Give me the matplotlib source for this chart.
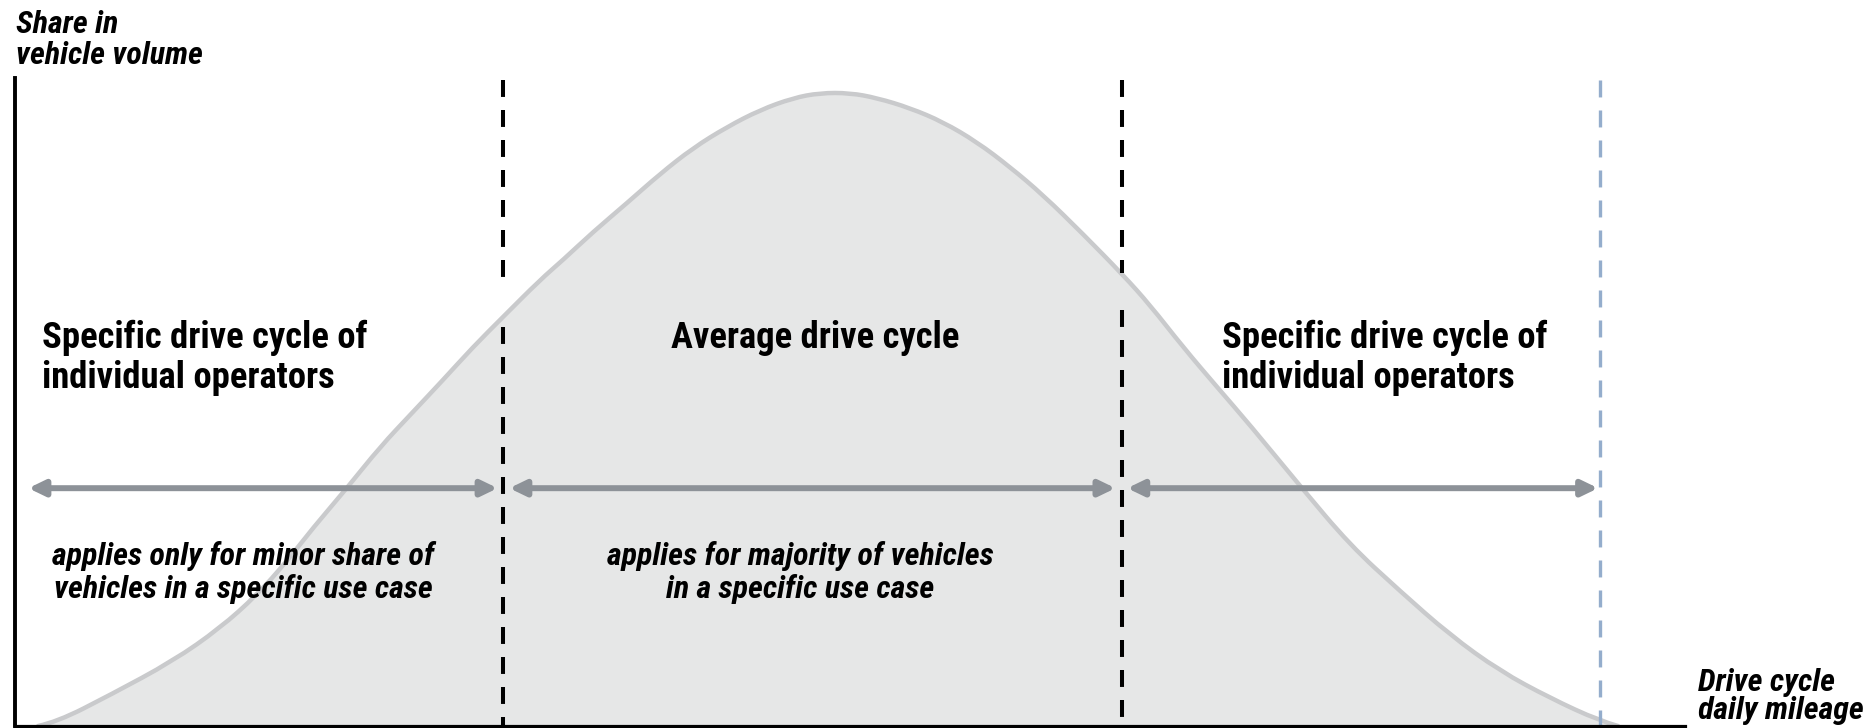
import matplotlib
matplotlib.use("Agg")
import matplotlib.pyplot as plt
from matplotlib import font_manager
from matplotlib.patches import FancyArrowPatch, ArrowStyle, PathPatch
from matplotlib.path import Path

# ---------------- data ----------------
mileage = [1.38, 2.51, 5.69, 9.46, 12.28, 14.49, 16.29, 17.84, 19.88, 21.86,
           23.77, 25.63, 27.43, 29.22, 31.44, 32.81, 34.61, 36.65, 38.62,
           40.60, 42.63, 44.61, 46.59, 48.20, 50.00, 51.62, 53.59, 55.57,
           57.60, 59.58, 61.56, 63.95, 66.35, 67.96, 69.94, 71.98, 73.95,
           76.95, 79.94, 82.93, 85.93, 88.92, 91.92, 94.91, 95.99]
share = [0.0, 0.62, 4.78, 10.03, 15.12, 20.22, 25.46, 30.56, 36.73, 43.06,
         48.30, 53.40, 58.49, 63.12, 68.83, 71.91, 76.23, 80.71, 85.19,
         89.20, 92.44, 95.06, 96.91, 97.69, 97.69, 96.91, 95.37, 93.21,
         90.12, 86.27, 81.94, 75.93, 69.60, 64.97, 58.49, 52.31, 46.45,
         37.04, 27.93, 20.83, 14.04, 8.49, 4.32, 0.77, 0.0]

segment_bounds = [29.2, 66.3]          # black dashed separators
outer_bound = 94.9                     # light-blue dashed limit
arrow_spans = [(0.8, 28.9), (29.6, 65.9), (66.6, 94.8)]

heading_left = ["Specific drive cycle of", "individual operators"]
heading_mid = ["Average drive cycle"]
heading_right = ["Specific drive cycle of", "individual operators"]
note_left = ["applies only for minor share of", "vehicles in a specific use case"]
note_mid = ["applies for majority of vehicles", "in a specific use case"]
ylabel_lines = ["Share in", "vehicle volume"]
xlabel_lines = ["Drive cycle", "daily mileage"]

# ---------------- style ----------------
names = {f.name for f in font_manager.fontManager.ttflist}
if "Roboto Condensed" in names:
    FAMILY, K = "Roboto Condensed", 1.0
elif "Liberation Sans Narrow" in names:
    FAMILY, K = "Liberation Sans Narrow", 1.0
else:
    FAMILY, K = "Liberation Sans", 0.87
plt.rcParams["font.family"] = [FAMILY, "DejaVu Sans"]
plt.rcParams["lines.scale_dashes"] = False

FILL = "#E6E7E7"
CURVE = "#C9CACC"
ARROW = "#8D9298"
BLUE = "#94ADCC"

W, H = 1872, 728
fig = plt.figure(figsize=(W / 100, H / 100), dpi=100)
L, R, T, B = 15, 1685, 78, 726
ax = fig.add_axes([L / W, (H - B) / H, (R - L) / W, (B - T) / H])
ax.set_xlim(0, 100)
ax.set_ylim(0, 100)
ax.set_xticks([])
ax.set_yticks([])
for s in ("top", "right"):
    ax.spines[s].set_visible(False)
ax.spines["left"].set_linewidth(2.8)
ax.spines["bottom"].set_linewidth(2.3)
ax.spines["left"].set_zorder(6)
ax.spines["bottom"].set_zorder(6)

# distribution curve: read points used as control points of a smooth
# quadratic B-spline path rendered by matplotlib
pts = list(zip(mileage, share))
verts = [pts[0]]
codes = [Path.MOVETO]
for i in range(1, len(pts) - 2):
    mid = ((pts[i][0] + pts[i + 1][0]) / 2, (pts[i][1] + pts[i + 1][1]) / 2)
    verts += [pts[i], mid]
    codes += [Path.CURVE3, Path.CURVE3]
verts += [pts[-2], pts[-1]]
codes += [Path.CURVE3, Path.CURVE3]

fill_path = Path(verts + [(pts[-1][0], 0), (pts[0][0], 0), (0, 0)],
                 codes + [Path.LINETO, Path.LINETO, Path.CLOSEPOLY])
ax.add_patch(PathPatch(fill_path, facecolor=FILL, edgecolor="none",
                       lw=0, zorder=1))
ax.add_patch(PathPatch(Path(verts, codes), facecolor="none",
                       edgecolor=CURVE, lw=3.2, capstyle="round",
                       joinstyle="round", zorder=2))

# dashed separators (each broken around the curve crossing)
dash = (0, (12.2, 9.4))
gaps = [(69.3, 61.6), (69.9, 64.2)]
for xb, (g_top, g_bot) in zip(segment_bounds, gaps):
    ax.plot([xb, xb], [99.7, g_top], color="black", lw=2.9, linestyle=dash,
            dash_capstyle="butt", zorder=3)
    ax.plot([xb, xb], [g_bot, 0], color="black", lw=2.9, linestyle=dash,
            dash_capstyle="butt", zorder=3)
ax.plot([outer_bound, outer_bound], [99.7, 0], color=BLUE, lw=2.4,
        linestyle=dash, dash_capstyle="butt", zorder=3)

# double arrows
arrow_y = 36.7
for x0, x1 in arrow_spans:
    ax.add_patch(FancyArrowPatch(
        (x0, arrow_y), (x1, arrow_y),
        arrowstyle=ArrowStyle("<|-|>", head_length=9.5, head_width=4.6),
        mutation_scale=1, lw=4.3, color=ARROW, shrinkA=0, shrinkB=0,
        zorder=4))


def lines(x, ys, texts, size, ha="left", style="normal"):
    for y, t in zip(ys, texts):
        ax.text(x, y, t, ha=ha, va="baseline", fontsize=size * K,
                fontweight="bold", fontstyle=style, color="black",
                zorder=7, clip_on=False)


HEAD = 26.4
NOTE = 23.0
LAB = 23.0
head_y = [58.4, 52.2]
note_y = [24.9, 19.7]

lines(1.6, head_y, heading_left, HEAD)
lines(47.9, head_y[:1], heading_mid, HEAD, ha="center")
lines(72.3, head_y, heading_right, HEAD)
lines(13.65, note_y, note_left, NOTE, ha="center", style="italic")
lines(47.0, note_y, note_mid, NOTE, ha="center", style="italic")
lines(0.06, [107.0, 102.1], ylabel_lines, LAB, style="italic")
lines(100.75, [5.4, 1.1], xlabel_lines, LAB, style="italic")

fig.savefig("out.png", dpi=100)
